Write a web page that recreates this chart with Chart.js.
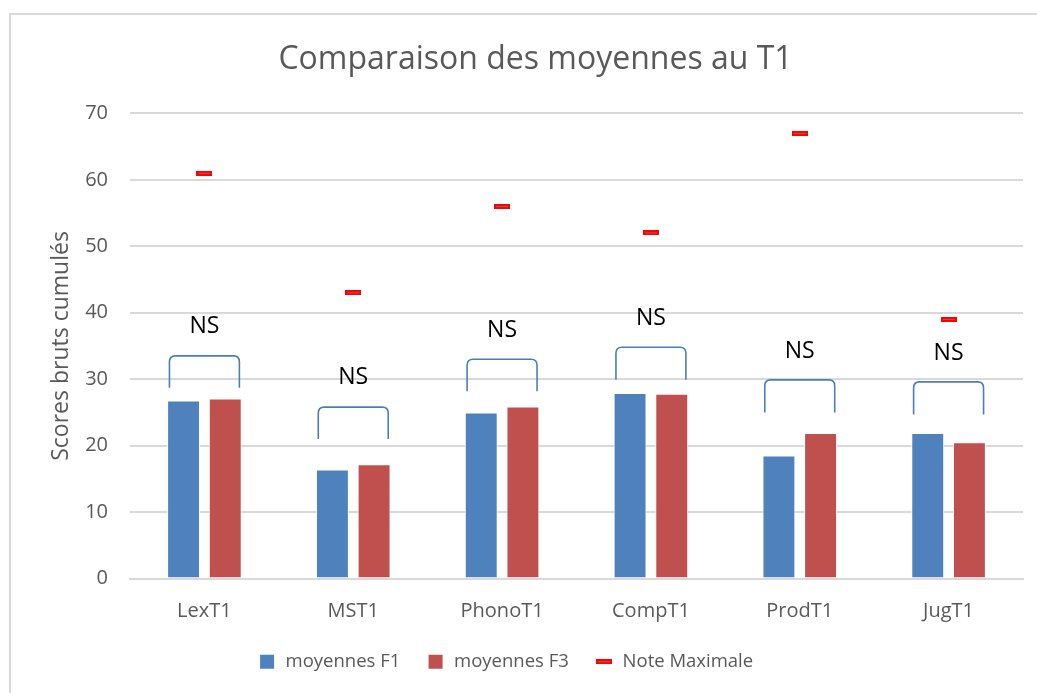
<!DOCTYPE html>
<html>
<head>
<meta charset="utf-8">
<script src="https://cdn.jsdelivr.net/npm/chart.js@4.4.0/dist/chart.umd.min.js"></script>
<style>
  body { margin: 0; background: #fff; }
  #frame { position: absolute; left: 9px; top: 13px; width: 1100px; height: 760px; border: 2px solid #d9d9d9; }
  #chart { position: absolute; left: 0; top: 0; }
</style>
</head>
<body>
<div id="frame"></div>
<canvas id="chart" width="1037" height="693"></canvas>
<script>
const categories = ["LexT1", "MST1", "PhonoT1", "CompT1", "ProdT1", "JugT1"];
const moyennesF1 = [26.8, 16.4, 25.0, 27.9, 18.5, 21.9];
const moyennesF3 = [27.1, 17.2, 25.9, 27.8, 21.9, 20.5];
const noteMaximale = [61, 43, 56, 52, 67, 39];

// significance brackets (top of bracket, bottom of legs, NS label)
const bracketTop = [33.5, 25.8, 33.0, 34.8, 29.9, 29.6];
const bracketLeg = [28.7, 21.0, 28.2, 29.9, 25.0, 24.7];
const nsLabelY = [37.9, 30.3, 37.4, 39.2, 34.2, 33.9];
const nsLabels = ["NS", "NS", "NS", "NS", "NS", "NS"];

const FONT = "'Open Sans', 'Noto Sans', sans-serif";
const GREY = "#595959";

// small red dash used for the maximum marks
function makeDash() {
  const c = document.createElement("canvas");
  c.width = 16; c.height = 5;
  const g = c.getContext("2d");
  g.fillStyle = "#ff0000";
  g.fillRect(0, 0, 16, 5);
  g.fillStyle = "#c0504d";
  g.fillRect(2, 2, 12, 1);
  return c;
}
const dash = makeDash();

const bracketPlugin = {
  id: "brackets",
  afterLayout(chart) {
    // Excel centres the legend a bit left of the plot
    chart.legend.left -= 30;
    chart.legend.right -= 30;
  },
  afterDatasetsDraw(chart) {
    const ctx = chart.ctx;
    const x = chart.scales.x;
    const y = chart.scales.y;
    const half = (x.getPixelForValue(1) - x.getPixelForValue(0)) * 0.235;
    ctx.save();
    ctx.strokeStyle = "#4a7ebb";
    ctx.lineWidth = 1.6;
    categories.forEach(function (cat, i) {
      const cx = x.getPixelForValue(i);
      const x0 = cx - half, x1 = cx + half;
      const yt = y.getPixelForValue(bracketTop[i]);
      const yb = y.getPixelForValue(bracketLeg[i]);
      const r = 6;
      ctx.beginPath();
      ctx.moveTo(x0, yb);
      ctx.lineTo(x0, yt + r);
      ctx.quadraticCurveTo(x0, yt, x0 + r, yt);
      ctx.lineTo(x1 - r, yt);
      ctx.quadraticCurveTo(x1, yt, x1, yt + r);
      ctx.lineTo(x1, yb);
      ctx.stroke();
    });
    ctx.fillStyle = "#000";
    ctx.font = "23px " + FONT;
    ctx.textAlign = "center";
    ctx.textBaseline = "middle";
    categories.forEach(function (cat, i) {
      ctx.fillText(nsLabels[i], x.getPixelForValue(i), y.getPixelForValue(nsLabelY[i]));
    });
    ctx.restore();
  }
};

new Chart("chart", {
  type: "bar",
  data: {
    labels: categories,
    datasets: [
      {
        label: "moyennes F1",
        data: moyennesF1,
        backgroundColor: "#4f81bd",
        borderColor: "#ffffff",
        borderWidth: 1,
        pointStyle: "rect",
        order: 2,
      },
      {
        label: "moyennes F3",
        data: moyennesF3,
        backgroundColor: "#c0504d",
        borderColor: "#ffffff",
        borderWidth: 1,
        pointStyle: "rect",
        order: 2,
      },
      {
        type: "line",
        label: "Note Maximale",
        data: noteMaximale,
        showLine: false,
        pointStyle: dash,
        borderColor: "#ff0000",
        backgroundColor: "#ff0000",
        order: 1,
      },
    ],
  },
  options: {
    responsive: false,
    animation: false,
    layout: { padding: { left: 48, right: 14, top: 20, bottom: 12 } },
    datasets: { bar: { categoryPercentage: 0.56, barPercentage: 0.79 } },
    plugins: {
      title: {
        display: true,
        text: "Comparaison des moyennes au T1",
        color: GREY,
        font: { family: FONT, size: 32, weight: "normal" },
        padding: { top: 21, bottom: 34 },
      },
      legend: {
        position: "bottom",
        labels: {
          color: GREY,
          font: { family: FONT, size: 18.5 },
          usePointStyle: true,
          boxHeight: 14,
          padding: 26,
          generateLabels: function (chart) {
            return chart.data.datasets.map(function (ds, i) {
              return {
                text: ds.label,
                fillStyle: ds.backgroundColor,
                strokeStyle: ds.backgroundColor,
                lineWidth: 0,
                pointStyle: ds.pointStyle,
                fontColor: GREY,
                datasetIndex: i,
              };
            });
          },
        },
      },
      tooltip: { enabled: false },
    },
    scales: {
      x: {
        grid: { display: false },
        border: { color: "#d9d9d9", width: 2 },
        ticks: { color: GREY, font: { family: FONT, size: 20 }, padding: 13 },
        afterFit: function (scale) { scale.height -= 10; },
      },
      y: {
        min: 0,
        max: 70,
        ticks: { stepSize: 10, color: GREY, font: { family: FONT, size: 20 }, padding: 22 },
        grid: { color: "#d9d9d9", lineWidth: 2, drawTicks: false },
        border: { display: false },
        title: {
          display: true,
          text: "Scores bruts cumulés",
          color: GREY,
          font: { family: FONT, size: 23 },
          padding: { top: 0, bottom: 0 },
        },
        afterFit: function (scale) { scale.width = 82; },
      },
    },
  },
  plugins: [bracketPlugin],
});
</script>
</body>
</html>
